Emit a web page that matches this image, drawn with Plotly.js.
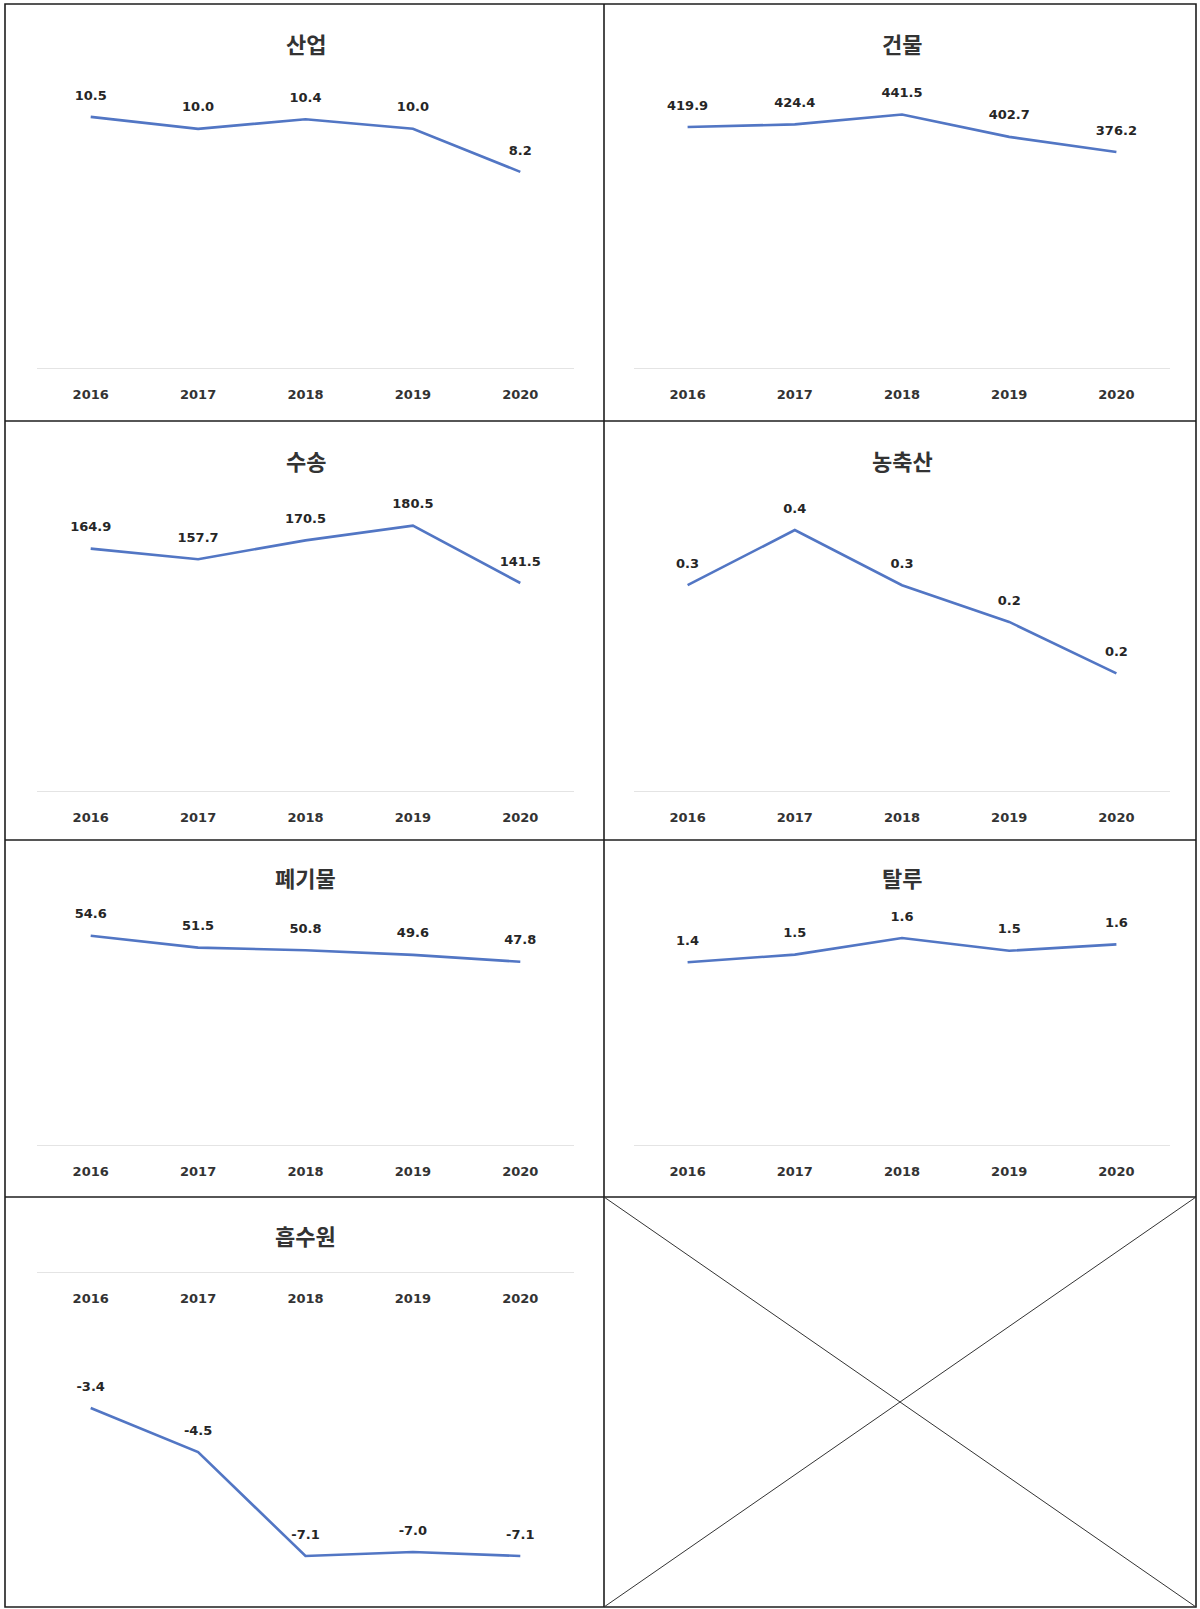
<!DOCTYPE html>
<html>
<head>
<meta charset="utf-8">
<script src="https://cdn.plot.ly/plotly-3.0.1.min.js"></script>
<style>
  html, body { margin: 0; padding: 0; background: #fff; }
  #chart { width: 1200px; height: 1609px; }
</style>
</head>
<body>
<div id="chart"></div>
<script>
// Years on the category axis
const years = ['2016', '2017', '2018', '2019', '2020'];

// Sector titles
const titles = ['산업', '건물', '수송', '농축산', '폐기물', '탈루', '흡수원'];

// Emissions per sector, 2016-2020
const industry    = [10.5, 10.0, 10.4, 10.0, 8.2];
const building    = [419.9, 424.4, 441.5, 402.7, 376.2];
const transport   = [164.9, 157.7, 170.5, 180.5, 141.5];
const agriculture = [0.28, 0.355, 0.28, 0.23, 0.16];
const waste       = [54.6, 51.5, 50.8, 49.6, 47.8];
const fugitive    = [1.43, 1.49, 1.62, 1.52, 1.57];
const sink        = [-3.4, -4.5, -7.1, -7.0, -7.1];

const W = 1200, H = 1609;
const px = x => x / W;
const py = y => 1 - y / H;

// Panel grid (pixel positions of each plot area)
const colX = [[37, 574], [634, 1170]];
const rowY = [[81, 368], [497, 791], [915, 1145], [1272, 1592]];
const titleY = [43, 460, 877, 1235];

const panels = [
  { vals: industry,    range: [0, 12],   row: 0, col: 0 },
  { vals: building,    range: [0, 500],  row: 0, col: 1 },
  { vals: transport,   range: [0, 200],  row: 1, col: 0 },
  { vals: agriculture, range: [0, 0.4],  row: 1, col: 1 },
  { vals: waste,       range: [0, 60],   row: 2, col: 0 },
  { vals: fugitive,    range: [0, 1.8],  row: 2, col: 1 },
  { vals: sink,        range: [-8, 0],   row: 3, col: 0 }
];

const lineColor = '#5276c4';
const labelFont = { family: 'DejaVu Sans', size: 13, color: '#262626', weight: 'bold' };
const tickFont  = { family: 'DejaVu Sans', size: 13, color: '#333333', weight: 'bold' };
const titleFont = { family: 'Noto Sans CJK KR', size: 22, color: '#333333', weight: 'bold' };

const data = [];
const annotations = [];
const layout = {
  width: W, height: H,
  margin: { l: 0, r: 0, t: 0, b: 0 },
  paper_bgcolor: '#ffffff',
  plot_bgcolor: 'rgba(0,0,0,0)',
  showlegend: false,
  hovermode: false,
  annotations: annotations,
  shapes: []
};

panels.forEach((p, i) => {
  const n = i + 1;
  const xa = 'xaxis' + (n === 1 ? '' : n);
  const ya = 'yaxis' + (n === 1 ? '' : n);
  const xr = 'x' + (n === 1 ? '' : n);
  const yr = 'y' + (n === 1 ? '' : n);
  const [x0, x1] = colX[p.col];
  const [yTop, yBot] = rowY[p.row];

  // Series line
  data.push({
    type: 'scatter', mode: 'lines',
    x: years, y: p.vals,
    xaxis: xr, yaxis: yr,
    line: { color: lineColor, width: 2.6 },
    cliponaxis: false
  });

  // Value labels above each point (invisible markers set the label offset)
  data.push({
    type: 'scatter', mode: 'markers+text',
    x: years, y: p.vals,
    xaxis: xr, yaxis: yr,
    marker: { size: 21, color: 'rgba(0,0,0,0)', line: { width: 0 } },
    text: p.vals.map(v => v.toFixed(1)),
    textposition: 'top center',
    textfont: labelFont,
    cliponaxis: false
  });

  // Axis line sits at zero: bottom for positive series, top for the sink series
  const zeroAtTop = p.range[1] === 0;
  layout[xa] = {
    type: 'category',
    domain: [px(x0), px(x1)],
    range: [-0.5, 4.5],
    showgrid: false, zeroline: false,
    showline: true, linecolor: '#e4e4e4', linewidth: 1,
    ticks: 'outside', ticklen: 14, tickcolor: 'rgba(0,0,0,0)',
    tickfont: tickFont,
    fixedrange: true
  };
  if (zeroAtTop) {
    layout[xa].anchor = 'free';
    layout[xa].position = py(yTop);
  } else {
    layout[xa].anchor = yr;
  }
  layout[ya] = {
    domain: [py(yBot), py(yTop)],
    range: p.range,
    showgrid: false, zeroline: false, showline: false,
    showticklabels: false, ticks: '',
    anchor: xr,
    fixedrange: true
  };

  // Panel title
  annotations.push({
    xref: 'paper', yref: 'paper',
    x: px((x0 + x1) / 2), y: py(titleY[p.row]),
    text: titles[i], showarrow: false,
    xanchor: 'center', yanchor: 'middle',
    font: titleFont
  });
});

// Table frame around the panels
const border = { color: '#1e1e1e', width: 1.6 };
const L = 5, R = 1196, T = 4, B = 1607, MID = 604;
const rows = [421, 840, 1197];
layout.shapes.push({ type: 'rect', xref: 'paper', yref: 'paper',
  x0: px(L), x1: px(R), y0: py(B), y1: py(T), line: border });
layout.shapes.push({ type: 'line', xref: 'paper', yref: 'paper',
  x0: px(MID), x1: px(MID), y0: py(T), y1: py(B), line: border });
rows.forEach(y => layout.shapes.push({ type: 'line', xref: 'paper', yref: 'paper',
  x0: px(L), x1: px(R), y0: py(y), y1: py(y), line: border }));

// Crossed-out empty cell
const cross = { color: '#333333', width: 1 };
layout.shapes.push({ type: 'line', xref: 'paper', yref: 'paper',
  x0: px(MID), y0: py(rows[2]), x1: px(R), y1: py(B), line: cross });
layout.shapes.push({ type: 'line', xref: 'paper', yref: 'paper',
  x0: px(R), y0: py(rows[2]), x1: px(MID), y1: py(B), line: cross });

Plotly.newPlot('chart', data, layout, { staticPlot: true, displayModeBar: false });
</script>
</body>
</html>
